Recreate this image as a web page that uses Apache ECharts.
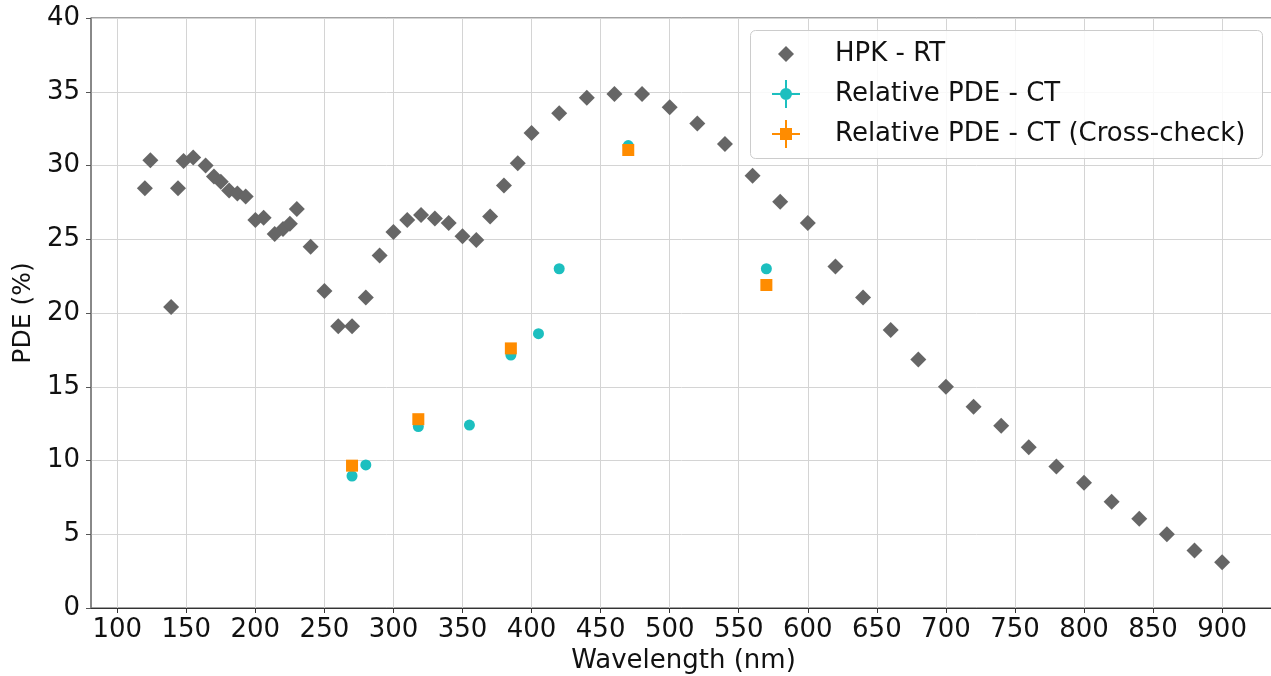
<!DOCTYPE html>
<html>
<head>
<meta charset="utf-8">
<script src="https://cdn.jsdelivr.net/npm/echarts@6/dist/echarts.min.js"></script>
<style>
html,body{margin:0;padding:0;background:#fff;}
#chart{width:1271px;height:676px;}
</style>
</head>
<body>
<div id="chart"></div>
<script>
// HPK - RT (room temperature) PDE
const hpkWavelength = [120,124,139,144,148,155,164,170,175,181,187,193,200,206,214,220,225,230,240,250,260,270,280,290,300,310,320,330,340,350,360,370,380,390,400,420,440,460,480,500,520,540,560,580,600,620,640,660,680,700,720,740,760,780,800,820,840,860,880,900];
const hpkPDE = [28.45,30.35,20.4,28.45,30.3,30.55,30.0,29.25,28.9,28.3,28.1,27.9,26.3,26.45,25.35,25.7,26.05,27.05,24.5,21.5,19.1,19.1,21.05,23.9,25.5,26.3,26.65,26.4,26.1,25.2,24.95,26.55,28.65,30.15,32.2,33.55,34.6,34.85,34.85,33.95,32.85,31.45,29.3,27.55,26.1,23.15,21.05,18.85,16.85,15.0,13.65,12.35,10.9,9.6,8.5,7.2,6.05,5.0,3.9,3.1];
// Relative PDE - CT
const ctWavelength = [270,280,318,355,385,405,420,470,570];
const ctPDE = [8.95,9.7,12.3,12.4,17.15,18.6,23.0,31.35,23.0];
// Relative PDE - CT (Cross-check)
const ccWavelength = [270,318,385,470,570];
const ccPDE = [9.65,12.8,17.6,31.05,21.9];
// Axis ticks
const xTicks = [100,150,200,250,300,350,400,450,500,550,600,650,700,750,800,850,900];
const seriesNames = ['HPK - RT','Relative PDE - CT','Relative PDE - CT (Cross-check)'];

const zip = (a,b) => a.map((v,i)=>[v,b[i]]);
const FONT = 'DejaVu Sans';
const crossCircle = 'path://M0 13 L28 13 L28 15 L0 15 Z M13 0 L15 0 L15 28 L13 28 Z M14 8 A6 6 0 1 1 14 20 A6 6 0 1 1 14 8 Z';
const crossSquare = 'path://M0 13 L28 13 L28 15 L0 15 Z M13 0 L15 0 L15 28 L13 28 Z M8 8 L20 8 L20 20 L8 20 Z';
const teal = '#1cbfbf', orange = '#ff8c00', gray = '#666666';

const chart = echarts.init(document.getElementById('chart'), null, {renderer:'canvas'});
const legendText = {fontFamily: FONT, fontSize: 26, color: '#111'};
chart.setOption({
  animation: false,
  backgroundColor: '#fff',
  grid: {left: 91, top: 18, right: -5, bottom: 68, show: true, borderColor: '#444', borderWidth: 1, backgroundColor: 'transparent', outerBoundsMode: 'none'},
  xAxis: {
    type: 'value', min: 81, max: 939,
    name: 'Wavelength (nm)', nameLocation: 'middle', nameGap: 38,
    nameTextStyle: {fontFamily: FONT, fontSize: 26, color: '#111'},
    axisLine: {show: true, lineStyle: {color: '#333', width: 1.2}},
    axisTick: {show: true, length: 5, customValues: xTicks, lineStyle: {color: '#333'}},
    axisLabel: {customValues: xTicks, margin: 9, fontFamily: FONT, fontSize: 26, color: '#111', showMinLabel: true, showMaxLabel: true},
    splitLine: {show: true, lineStyle: {color: '#d4d4d4', width: 1}}
  },
  yAxis: {
    type: 'value', min: 0, max: 40, interval: 5,
    name: 'PDE (%)', nameLocation: 'middle', nameGap: 49,
    nameTextStyle: {fontFamily: FONT, fontSize: 25, color: '#111'},
    axisLine: {show: true, lineStyle: {color: '#808080', width: 1.5}},
    axisTick: {show: true, length: 5, lineStyle: {color: '#555'}},
    axisLabel: {margin: 11, fontFamily: FONT, fontSize: 26, color: '#111'},
    splitLine: {show: true, lineStyle: {color: '#d4d4d4', width: 1}}
  },
  graphic: [{
    type: 'rect', left: 750, top: 30, z: 3,
    shape: {width: 512, height: 128, r: 5},
    style: {fill: 'rgba(255,255,255,0.85)', stroke: '#cccccc', lineWidth: 1}
  }],
  legend: [
    {data: [{name: seriesNames[0], icon: 'diamond'}], left: 778, top: 41, padding: 0, itemWidth: 16, itemHeight: 16, textStyle: Object.assign({padding: [0,0,0,36]}, legendText), selectedMode: false, z: 5},
    {data: [{name: seriesNames[1], icon: crossCircle}], left: 772, top: 80, padding: 0, itemWidth: 28, itemHeight: 28, textStyle: Object.assign({padding: [0,0,0,30]}, legendText), selectedMode: false, z: 5},
    {data: [{name: seriesNames[2], icon: crossSquare}], left: 772, top: 120, padding: 0, itemWidth: 28, itemHeight: 28, textStyle: Object.assign({padding: [0,0,0,30]}, legendText), selectedMode: false, z: 5}
  ],
  series: [
    {name: seriesNames[0], type: 'scatter', symbol: 'diamond', symbolSize: 16, itemStyle: {color: gray, opacity: 1}, data: zip(hpkWavelength, hpkPDE), z: 2},
    {name: seriesNames[1], type: 'scatter', symbol: 'circle', symbolSize: 11, itemStyle: {color: teal, opacity: 1}, data: zip(ctWavelength, ctPDE), z: 2},
    {name: seriesNames[2], type: 'scatter', symbol: 'rect', symbolSize: 12, itemStyle: {color: orange, opacity: 1}, data: zip(ccWavelength, ccPDE), z: 2}
  ]
});
</script>
</body>
</html>
